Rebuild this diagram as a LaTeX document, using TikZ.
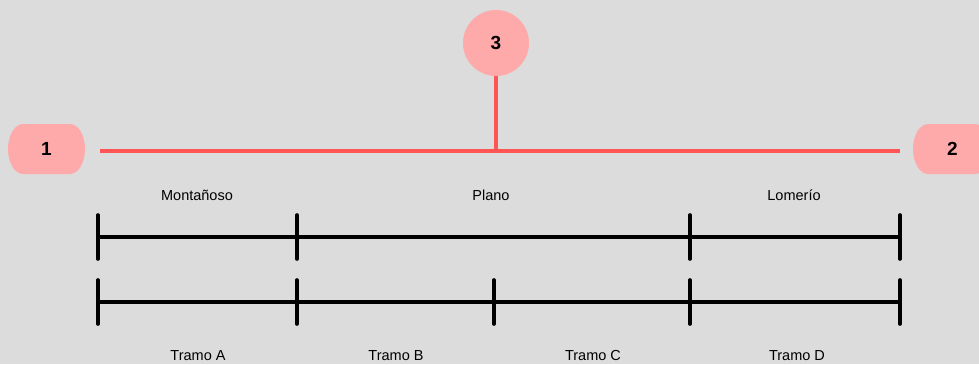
\documentclass[tikz,border=0pt]{standalone}
\usepackage{fontspec}
\setmainfont{Liberation Sans}
\definecolor{bg}{HTML}{DCDCDC}
\definecolor{pillfill}{HTML}{FFAAAA}
\definecolor{redline}{HTML}{FF5555}
\newcommand{\pillshape}[2]{%
  \fill[pillfill] (#1-23.5,#2-25) -- (#1+23.5,#2-25)
    arc[start angle=270,end angle=360,x radius=15,y radius=25]
    arc[start angle=0,end angle=90,x radius=15,y radius=25]
    -- (#1-23.5,#2+25)
    arc[start angle=90,end angle=180,x radius=15,y radius=25]
    arc[start angle=180,end angle=270,x radius=15,y radius=25] -- cycle;}
\begin{document}
\begin{tikzpicture}[x=1pt,y=-1pt,
  pilltext/.style={minimum width=77pt, minimum height=50pt, inner sep=0pt, font=\fontsize{19}{19}\selectfont\bfseries},
  circ/.style={circle, fill=pillfill, minimum size=66pt, inner sep=0pt, font=\fontsize{19}{19}\selectfont\bfseries},
  redl/.style={draw=redline, line width=3.2pt},
  blk/.style={draw=black, line width=3.6pt},
  tick/.style={draw=black, line width=3.6pt, line cap=round},
  lbl/.style={font=\fontsize{14.5}{15}\selectfont, inner sep=0pt}]
\useasboundingbox (0,0) rectangle (979,364);
\clip (0,0) rectangle (979,364);
\fill[bg] (0,0) rectangle (979,364);
% pills
\pillshape{46.5}{149}
\pillshape{951.5}{149}
\node[pilltext] (n1) at (46.5,149) {1};
\node[pilltext] (n2) at (951.5,149) {\hspace*{2pt}2};
\node[circ] (n3) at (496,43) {3};
\coordinate (j) at (496,151);
\coordinate (rl) at (100,151);
\coordinate (rr) at (900,151);
\draw[redl] (rl) -- (rr);
\draw[redl] (n3.south) -- (j);
% row 1
\coordinate (a1) at (98,237);
\coordinate (a2) at (297,237);
\coordinate (a3) at (690,237);
\coordinate (a4) at (900,237);
\draw[blk] (a1) -- (a4);
\foreach \p in {a1,a2,a3,a4} \draw[tick] ([yshift=-22pt]\p) -- ([yshift=22pt]\p);
% row 2
\coordinate (b1) at (98,302);
\coordinate (b2) at (297,302);
\coordinate (b3) at (494,302);
\coordinate (b4) at (690,302);
\coordinate (b5) at (900,302);
\draw[blk] (b1) -- (b5);
\foreach \p in {b1,b2,b3,b4,b5} \draw[tick] ([yshift=-22pt]\p) -- ([yshift=22pt]\p);
% labels
\node[lbl] (m) at (197,195) {Montañoso};
\node[lbl] (p) at (491,195) {Plano};
\node[lbl] (l) at (794,195) {Lomerío};
\node[lbl] (ta) at (198,356) {Tramo A};
\node[lbl] (tb) at (396,356) {Tramo B};
\node[lbl] (tc) at (593,356) {Tramo C};
\node[lbl] (td) at (797,356) {Tramo D};
\end{tikzpicture}
\end{document}
